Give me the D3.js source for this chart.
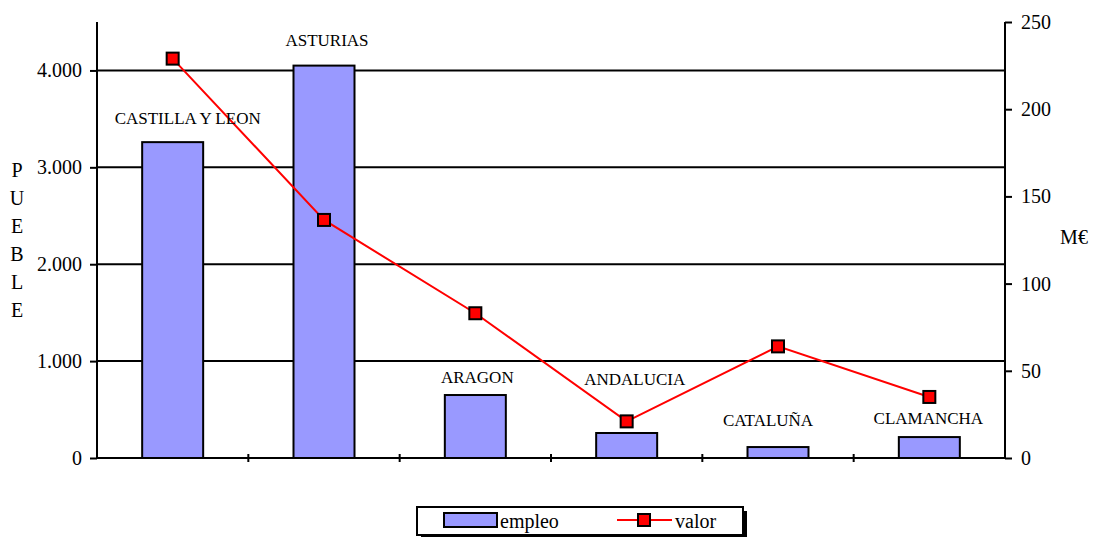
<!DOCTYPE html>
<html><head><meta charset="utf-8">
<script src="https://cdn.jsdelivr.net/npm/d3@7"></script>
<style>body{margin:0;background:#fff}svg{display:block}text{font-family:"Liberation Serif","Times New Roman",serif;fill:#000}</style>
</head><body><svg id="c" width="1094" height="537"></svg>
<script>
const categories = ["CASTILLA Y LEON","ASTURIAS","ARAGON","ANDALUCIA","CATALUÑA","CLAMANCHA"];
const empleo = [3260, 4050, 650, 258, 113, 216];
const valor = [229, 136.5, 83, 21, 64, 35];
const leftTicks = [0,1000,2000,3000,4000];
const leftTickLabels = ["0","1.000","2.000","3.000","4.000"];
const rightTicks = [0,50,100,150,200,250];
// label baseline, in empleo units, and horizontal nudge
const labelLevel = [3447, 4252, 774, 753, 330, 351];
const labelDx = [15, 3, 2, 8, -10, -1];

const FONT = '"Liberation Serif","Times New Roman",serif';
const svg = d3.select("#c");
const L=97, R=1005, T=22, B=458;
const xb = d3.scaleBand().domain(categories).range([L,R]);
const yL = d3.scaleLinear().domain([0,4500]).range([B,T]);
const yR = d3.scaleLinear().domain([0,250]).range([B,T]);

// gridlines
svg.append("g").selectAll("line").data(leftTicks.filter(d=>d>0)).join("line")
  .attr("x1",L).attr("x2",R).attr("y1",d=>yL(d)).attr("y2",d=>yL(d))
  .attr("stroke","#000").attr("stroke-width",2);

// bars
const bw = 61;
const cx = (d)=>xb(d)+xb.bandwidth()/2;
svg.append("g").selectAll("rect").data(categories).join("rect")
  .attr("x",d=>cx(d)-bw/2).attr("width",bw)
  .attr("y",(d,i)=>yL(empleo[i])).attr("height",(d,i)=>B-yL(empleo[i]))
  .attr("fill","#9999ff").attr("stroke","#000").attr("stroke-width",2);

// axes
const axL = d3.axisLeft(yL).tickValues(leftTicks).tickFormat((d,i)=>leftTickLabels[i]).tickSize(7).tickPadding(8);
const gL = svg.append("g").attr("transform",`translate(${L},0)`).call(axL);
const axR = d3.axisRight(yR).tickValues(rightTicks).tickSize(7).tickPadding(9);
const gR = svg.append("g").attr("transform",`translate(${R},0)`).call(axR);
[gL,gR].forEach(g=>{
  g.attr("font-family",FONT).attr("font-size",20);
  g.select(".domain").attr("stroke","#000").attr("stroke-width",2).attr("d",`M0,${T}V${B}`);
  g.selectAll(".tick line").attr("stroke","#000").attr("stroke-width",2);
  g.selectAll(".tick text").style("font-size","20px").style("font-family",FONT);
});
// bottom axis
svg.append("line").attr("x1",L).attr("x2",R).attr("y1",B).attr("y2",B).attr("stroke","#000").attr("stroke-width",2);
const bounds = categories.map(c=>xb(c));
svg.append("g").selectAll("line").data(bounds.slice(1)).join("line")
  .attr("x1",d=>d).attr("x2",d=>d).attr("y1",B-4).attr("y2",B+4).attr("stroke","#000").attr("stroke-width",2);

// line
svg.append("path").datum(valor)
  .attr("d", d3.line().x((d,i)=>cx(categories[i])).y(d=>yR(d)))
  .attr("fill","none").attr("stroke","#ff0000").attr("stroke-width",2);
svg.append("g").selectAll("rect").data(valor).join("rect")
  .attr("x",(d,i)=>cx(categories[i])-6).attr("y",d=>yR(d)-6).attr("width",12).attr("height",12)
  .attr("fill","#ff0000").attr("stroke","#000").attr("stroke-width",2);

// category labels
svg.append("g").selectAll("text").data(categories).join("text")
  .attr("x",(d,i)=>cx(d)+labelDx[i]).attr("y",(d,i)=>yL(labelLevel[i]))
  .attr("text-anchor","middle").style("font-size","17px").style("font-family",FONT).text(d=>d);

// axis titles
svg.append("g").selectAll("text").data("PUEBLE".split("")).join("text")
  .attr("x",17).attr("y",(d,i)=>177+i*28).attr("text-anchor","middle").style("font-size","20px").style("font-family",FONT).text(d=>d);
svg.append("text").attr("x",1074).attr("y",244).attr("text-anchor","middle").style("font-size","20px").style("font-family",FONT).text("M€");

// legend
const lg = svg.append("g");
lg.append("rect").attr("x",421).attr("y",511).attr("width",326).attr("height",28).attr("fill","#000");
lg.append("rect").attr("x",417).attr("y",507).attr("width",326).attr("height",28).attr("fill","#fff").attr("stroke","#000").attr("stroke-width",2);
lg.append("rect").attr("x",444).attr("y",513).attr("width",53).attr("height",14).attr("fill","#9999ff").attr("stroke","#000").attr("stroke-width",2);
lg.append("text").attr("x",500).attr("y",528).style("font-size","20px").style("font-family",FONT).text("empleo");
lg.append("line").attr("x1",617).attr("x2",672).attr("y1",520).attr("y2",520).attr("stroke","#ff0000").attr("stroke-width",2);
lg.append("rect").attr("x",638).attr("y",514).attr("width",12).attr("height",12).attr("fill","#ff0000").attr("stroke","#000").attr("stroke-width",2);
lg.append("text").attr("x",675).attr("y",528).style("font-size","20px").style("font-family",FONT).text("valor");
</script></body></html>
